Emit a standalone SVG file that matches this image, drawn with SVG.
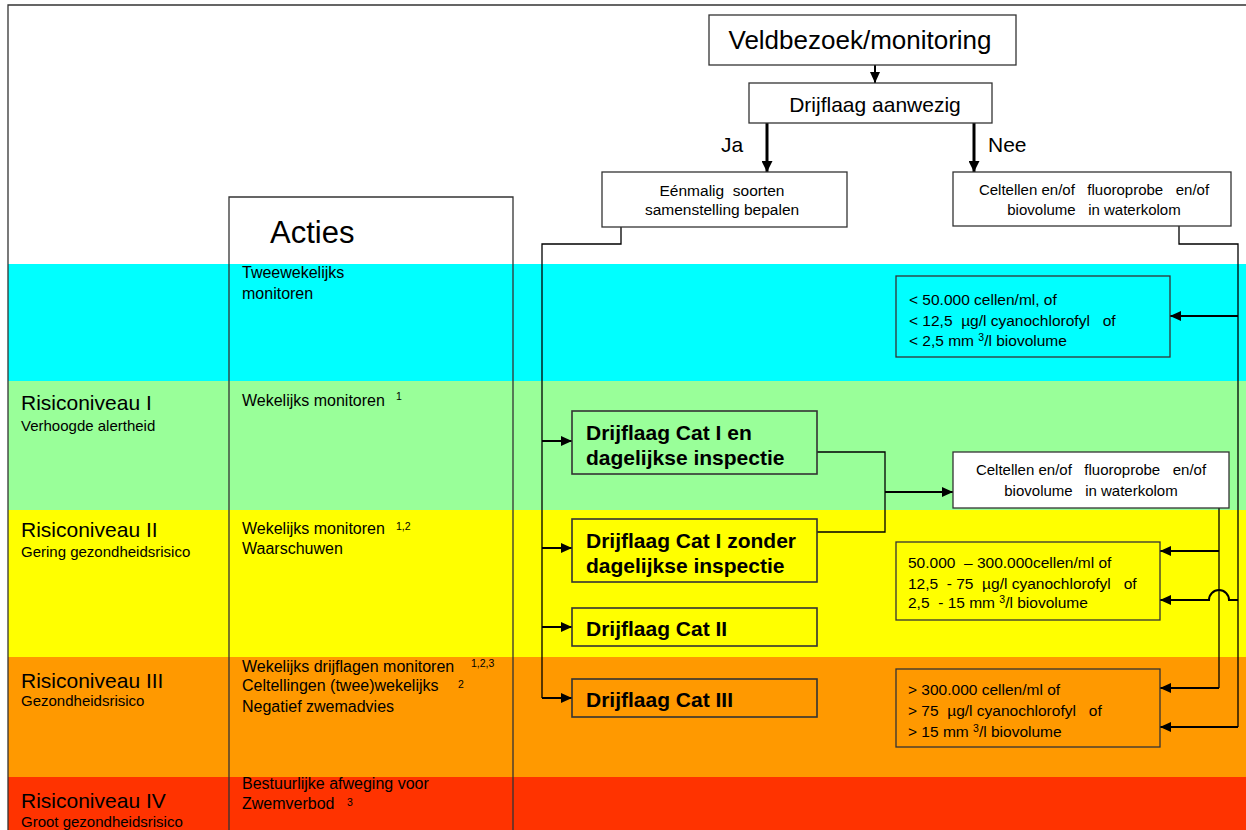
<svg xmlns="http://www.w3.org/2000/svg" width="1246" height="830" viewBox="0 0 1246 830">
<style>
text{font-family:"Liberation Sans",Arial,sans-serif;fill:#000;white-space:pre}
.t15{font-size:15px}
.t16{font-size:16px}
.box{font-size:15.5px}
.sup{font-size:10.5px}
.lvl{font-size:21px}
.cat{font-size:21px;font-weight:bold}
.frame{fill:none;stroke:#333;stroke-width:1.3}
.bx{fill:none;stroke:#333;stroke-width:1.3}
.cbx{fill:none;stroke:#333;stroke-width:1.6}
.wbx{fill:#fff;stroke:#333;stroke-width:1.3}
.ln{fill:none;stroke:#000;stroke-width:1.3}
.ar{fill:none;stroke:#000;stroke-width:2;marker-end:url(#ah)}
.arb{fill:none;stroke:#000;stroke-width:3;marker-end:url(#ahb)}
</style>
<defs>
<marker id="ah" markerUnits="userSpaceOnUse" markerWidth="11" markerHeight="10" refX="11" refY="5" orient="auto">
<path d="M0,0 L11,5 L0,10 z" fill="#000"/>
</marker>
<marker id="ahb" markerUnits="userSpaceOnUse" markerWidth="11" markerHeight="11" refX="11" refY="5.5" orient="auto">
<path d="M0,0 L11,5.5 L0,11 z" fill="#000"/>
</marker>
</defs>
<rect width="1246" height="830" fill="#fff"/>
<g id="bands">
<rect x="8" y="264" width="1238" height="118" fill="#00FFFF"/>
<rect x="8" y="381" width="1238" height="129" fill="#99FF99"/>
<rect x="8" y="510" width="1238" height="147" fill="#FFFF00"/>
<rect x="8" y="657" width="1238" height="120" fill="#FF9900"/>
<rect x="8" y="777" width="1238" height="53" fill="#FF3300"/>
</g>
<g id="frame">
<path class="frame" d="M8,830 V5 H1246"/>
</g>
<g id="levels">
<text class="lvl" x="21" y="410">Risiconiveau I</text>
<text class="t15" x="21" y="431">Verhoogde alertheid</text>
<text class="lvl" x="21" y="537">Risiconiveau II</text>
<text class="t15" x="21" y="557">Gering gezondheidsrisico</text>
<text class="lvl" x="21" y="688">Risiconiveau III</text>
<text class="t15" x="21" y="706">Gezondheidsrisico</text>
<text class="lvl" x="21" y="808">Risiconiveau IV</text>
<text class="t15" x="21" y="827">Groot gezondheidsrisico</text>
</g>
<g id="acties">
<path class="frame" d="M229,830 V197 H513 V830"/>
<text x="270" y="243" style="font-size:31px">Acties</text>
<text class="t16" x="242" y="278">Tweewekelijks</text>
<text class="t16" x="242" y="299">monitoren</text>
<text class="t16" x="242" y="406">Wekelijks monitoren</text>
<text class="sup" x="396" y="400">1</text>
<text class="t16" x="242" y="534">Wekelijks monitoren</text>
<text class="sup" x="396" y="530">1,2</text>
<text class="t16" x="242" y="554">Waarschuwen</text>
<text class="t16" x="242" y="672">Wekelijks drijflagen monitoren</text>
<text class="sup" x="471" y="667">1,2,3</text>
<text class="t16" x="242" y="691">Celtellingen (twee)wekelijks</text>
<text class="sup" x="458" y="688">2</text>
<text class="t16" x="242" y="712">Negatief zwemadvies</text>
<text class="t16" x="242" y="789">Bestuurlijke afweging voor</text>
<text class="t16" x="242" y="809">Zwemverbod</text>
<text class="sup" x="347" y="806">3</text>
</g>
<g id="connectors">
<path class="ar" d="M875,65 V83"/>
<path class="arb" d="M767,123 V172"/>
<path class="arb" d="M974,123 V172"/>
<text x="721" y="152" style="font-size:21px">Ja</text>
<text x="988" y="152" style="font-size:21px">Nee</text>
<path class="ln" d="M621,227 V244 H542 V698"/>
<path class="ar" d="M542,441 H572"/>
<path class="ar" d="M542,548 H572"/>
<path class="ar" d="M542,627 H572"/>
<path class="ar" d="M542,698 H572"/>
<path class="ln" d="M817,452 H885 V532 H817"/>
<path class="ar" d="M885,492 H953"/>
<path class="ln" d="M1179,226 V244 H1238 V727"/>
<path class="ar" d="M1238,316 H1170"/>
<path class="ar" d="M1238,600 H1229 A10,10 0 0 0 1209,600 H1160"/>
<path class="ar" d="M1238,727 H1160"/>
<path class="ln" d="M1219,508 V688"/>
<path class="ar" d="M1219,551 H1160"/>
<path class="ar" d="M1219,688 H1160"/>
</g>
<g id="veldbezoek">
<rect class="wbx" x="709" y="15" width="307" height="50"/>
<text x="860" y="49" text-anchor="middle" style="font-size:26px">Veldbezoek/monitoring</text>
</g>
<g id="drijflaag-aanwezig">
<rect class="wbx" x="749" y="83" width="243" height="40"/>
<text x="875" y="112" text-anchor="middle" style="font-size:21px">Drijflaag aanwezig</text>
</g>
<g id="eenmalig">
<rect class="wbx" x="602" y="172" width="245" height="55"/>
<text class="box" x="722" y="196" text-anchor="middle">Eénmalig  soorten</text>
<text class="box" x="722" y="215" text-anchor="middle">samenstelling bepalen</text>
</g>
<g id="celtellen-1">
<rect class="wbx" x="953" y="172" width="278" height="54"/>
<text class="t15" x="1094" y="195" text-anchor="middle">Celtellen en/of   fluoroprobe   en/of</text>
<text class="t15" x="1094" y="215" text-anchor="middle">biovolume   in waterkolom</text>
</g>
<g id="drempel-laag">
<rect class="bx" x="896" y="276" width="274" height="81"/>
<text class="box" x="909" y="305">&lt; 50.000 cellen/ml, of</text>
<text class="box" x="909" y="326">&lt; 12,5  µg/l cyanochlorofyl   of</text>
<text class="box" x="909" y="346">&lt; 2,5 mm <tspan class="sup" dy="-5">3</tspan><tspan dy="5">/l biovolume</tspan></text>
</g>
<g id="cat1-en">
<rect class="cbx" x="572" y="411" width="245" height="63"/>
<text class="cat" x="586" y="440">Drijflaag Cat I en</text>
<text class="cat" x="586" y="465">dagelijkse inspectie</text>
</g>
<g id="cat1-zonder">
<rect class="cbx" x="572" y="519" width="245" height="63"/>
<text class="cat" x="586" y="548">Drijflaag Cat I zonder</text>
<text class="cat" x="586" y="573">dagelijkse inspectie</text>
</g>
<g id="cat2">
<rect class="cbx" x="572" y="608" width="245" height="38"/>
<text class="cat" x="586" y="636">Drijflaag Cat II</text>
</g>
<g id="cat3">
<rect class="cbx" x="572" y="679" width="245" height="38"/>
<text class="cat" x="586" y="707">Drijflaag Cat III</text>
</g>
<g id="celtellen-2">
<rect class="wbx" x="953" y="452" width="276" height="56"/>
<text class="t15" x="1091" y="475" text-anchor="middle">Celtellen en/of   fluoroprobe   en/of</text>
<text class="t15" x="1091" y="496" text-anchor="middle">biovolume   in waterkolom</text>
</g>
<g id="drempel-midden">
<rect class="bx" x="896" y="542" width="264" height="78"/>
<text class="box" x="908" y="568">50.000  – 300.000cellen/ml of</text>
<text class="box" x="908" y="589">12,5  - 75  µg/l cyanochlorofyl   of</text>
<text class="box" x="908" y="608">2,5  - 15 mm <tspan class="sup" dy="-5">3</tspan><tspan dy="5">/l biovolume</tspan></text>
</g>
<g id="drempel-hoog">
<rect class="bx" x="896" y="669" width="264" height="78"/>
<text class="box" x="908" y="695">&gt; 300.000 cellen/ml of</text>
<text class="box" x="908" y="716">&gt; 75  µg/l cyanochlorofyl   of</text>
<text class="box" x="908" y="737">&gt; 15 mm <tspan class="sup" dy="-5">3</tspan><tspan dy="5">/l biovolume</tspan></text>
</g>
</svg>
